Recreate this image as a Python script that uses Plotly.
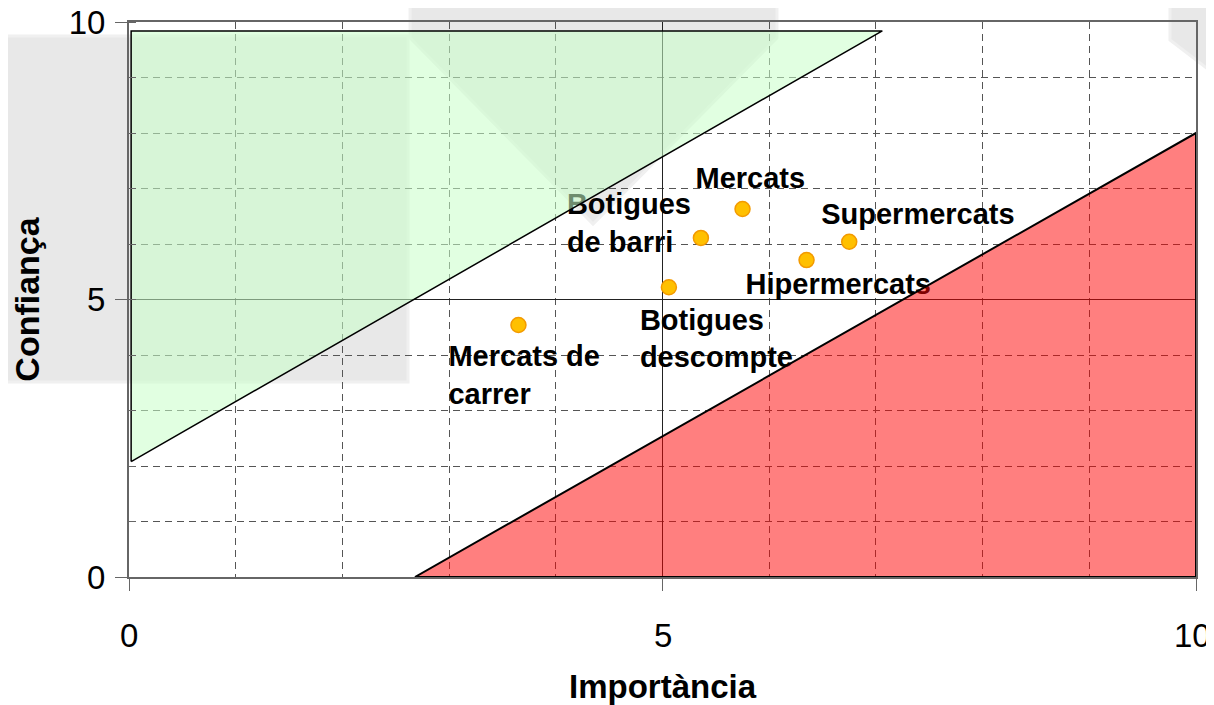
import plotly.graph_objects as go

# Data points
noms = ["Mercats de<br>carrer", "Botigues<br>descompte", "Botigues<br>de barri",
        "Mercats", "Hipermercats", "Supermercats"]
importancia = [3.65, 5.06, 5.36, 5.75, 6.35, 6.75]
confianca = [4.54, 5.22, 6.11, 6.63, 5.71, 6.04]

# Zones
zona_verda_x = [0.02, 0.02, 7.06, 0.02]
zona_verda_y = [2.08, 9.84, 9.84, 2.08]
zona_vermella_x = [2.68, 10.0, 10.0, 2.68]
zona_vermella_y = [0.0, 0.0, 8.0, 0.0]

eix_ticks = [0, 5, 10]

# Layout (page has an 8px body margin, so the figure is 8px smaller)
W, H = 1206, 697
M = dict(l=121, r=18, t=14, b=128)
px_x = (W - M["l"] - M["r"]) / 10.0
px_y = (H - M["t"] - M["b"]) / 10.0

# label offsets in pixels (left edge of text, vertical centre) from each point
label_dx = [-70, -29, -134, -47, -61, -28]
label_dy = [-53, -54, 12, 28, -27, 25]
label_x = [x + dx / px_x for x, dx in zip(importancia, label_dx)]
label_y = [y + dy / px_y for y, dy in zip(confianca, label_dy)]

FONT = "Liberation Sans, Arial, sans-serif"

fig = go.Figure()

# labels first so the zones tint them
fig.add_trace(go.Scatter(
    x=label_x, y=label_y, mode="text", text=noms,
    textposition="middle right",
    textfont=dict(family=FONT, size=29, color="black", weight="bold"),
    hoverinfo="skip", showlegend=False, cliponaxis=False,
))

fig.add_trace(go.Scatter(
    x=zona_verda_x, y=zona_verda_y, mode="lines", fill="toself",
    fillcolor="rgba(200,255,200,0.55)", line=dict(color="black", width=1.5),
    hoverinfo="skip", showlegend=False,
))
fig.add_trace(go.Scatter(
    x=zona_vermella_x, y=zona_vermella_y, mode="lines", fill="toself",
    fillcolor="rgba(255,0,0,0.5)", line=dict(color="black", width=2),
    hoverinfo="skip", showlegend=False,
))

fig.add_trace(go.Scatter(
    x=importancia, y=confianca, mode="markers",
    marker=dict(size=15, color="#FFC000", line=dict(color="#F39A00", width=1.5)),
    showlegend=False,
))

# faint grey watermark behind the chart (page pixel coords -> paper)
marca = "#E8E8E8"
def px2paper(pts):
    out = []
    for x, y in pts:
        x, y = x - 8, y - 8
        out.append(((x - M["l"]) / (W - M["l"] - M["r"]),
                    (H - M["b"] - y) / (H - M["t"] - M["b"])))
    return out

def path(pts):
    p = px2paper(pts)
    return "M " + " L ".join(f"{a:.4f},{b:.4f}" for a, b in p) + " Z"

for poly in [
    [(0, 36), (408, 36), (408, 382), (0, 382)],
    [(410, 0), (777, 0), (777, 38), (593, 224), (410, 38)],
    [(1170, 0), (1222, 0), (1222, 80), (1170, 40)],
]:
    fig.add_shape(type="path", path=path(poly), xref="paper", yref="paper",
                  fillcolor=marca, line=dict(color="#F0F0F0", width=3), layer="below")

# x tick labels as annotations so the last one can sit inside the page
for v in eix_ticks:
    fig.add_annotation(x=v, y=0, xref="x", yref="paper", text=str(v),
                       showarrow=False, yanchor="top", yshift=-38,
                       xshift=-4 if v == eix_ticks[-1] else 0,
                       font=dict(family=FONT, size=33, color="black"))

axis_common = dict(
    range=[0, 10], tickvals=eix_ticks, showline=True, mirror=True,
    linecolor="#666", linewidth=2, ticks="outside", ticklen=12, tickcolor="#666",
    tickfont=dict(family=FONT, size=33, color="black"), ticklabeloverflow="allow",
    showgrid=True, gridcolor="#222", gridwidth=1, zeroline=False,
    minor=dict(dtick=1, showgrid=True, gridcolor="#555", griddash="7px,5px", gridwidth=1),
    automargin=False, fixedrange=True,
)

fig.update_xaxes(**axis_common, showticklabels=False,
                 title=dict(text="Importància", standoff=95,
                            font=dict(family=FONT, size=33, color="black", weight="bold")))
fig.update_yaxes(**axis_common, ticklabelstandoff=3,
                 title=dict(text="Confiança", standoff=40,
                            font=dict(family=FONT, size=34, color="black", weight="bold")))
fig.update_yaxes(minor_ticks="inside", minor_ticklen=7, minor_tickcolor="#666")

fig.update_layout(
    width=W, height=H, margin=M,
    paper_bgcolor="white", plot_bgcolor="rgba(0,0,0,0)",
    font=dict(family=FONT),
)

fig.write_html("out.html")
